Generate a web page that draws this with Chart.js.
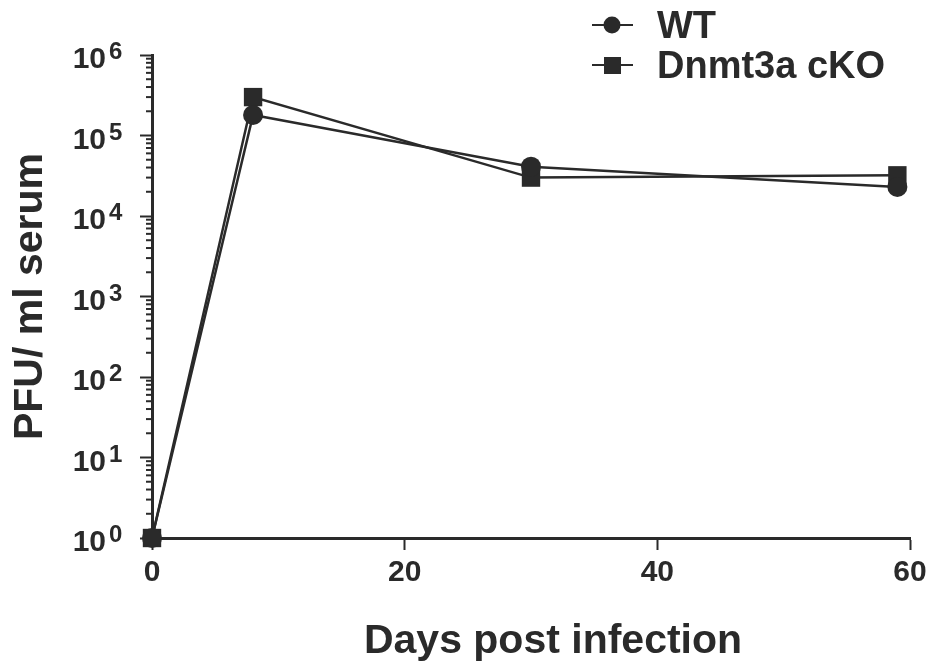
<!DOCTYPE html>
<html>
<head>
<meta charset="utf-8">
<script src="https://cdn.jsdelivr.net/npm/chart.js@4/dist/chart.umd.min.js"></script>
<style>
  html, body { margin: 0; padding: 0; background: #fff; }
  #wrap { width: 932px; height: 666px; }
</style>
</head>
<body>
<div id="wrap"><canvas id="titerChart" width="932" height="666"></canvas></div>
<script>
// values
const days = [0, 8, 30, 59];
const wtTiter = [1, 1.8e5, 4.1e4, 2.3e4];
const ckoTiter = [1, 3.0e5, 3.0e4, 3.2e4];
const seriesNames = ["WT", "Dnmt3a cKO"];
const xTickValues = [0, 20, 40, 60];
const yExponents = [0, 1, 2, 3, 4, 5, 6];
const xTitle = "Days post infection";

const ink = "#2a2a2a";
const FONT = "'Liberation Sans', Arial, sans-serif";
Chart.defaults.font.family = FONT;
Chart.defaults.color = ink;

function toPoints(xs, ys) {
    return xs.map((x, i) => ({ x: x, y: ys[i] }));
}

// y tick labels as 10 + superscript exponent, minor log ticks, x title
const logAxisDecor = {
    id: "logAxisDecor",
    afterDraw(chart) {
        const ctx = chart.ctx;
        const y = chart.scales.y;
        const area = chart.chartArea;
        const left = area.left;
        ctx.save();
        ctx.strokeStyle = ink;
        ctx.lineWidth = 2;
        // minor ticks 2..9 in every decade
        for (let e = 0; e < yExponents[yExponents.length - 1]; e++) {
            for (let k = 2; k <= 9; k++) {
                const py = y.getPixelForValue(k * Math.pow(10, e));
                ctx.beginPath();
                ctx.moveTo(left - 6, py);
                ctx.lineTo(left, py);
                ctx.stroke();
            }
        }
        ctx.fillStyle = ink;
        ctx.textBaseline = "alphabetic";
        yExponents.forEach((e) => {
            const py = y.getPixelForValue(Math.pow(10, e));
            ctx.font = "bold 30px " + FONT;
            ctx.textAlign = "right";
            ctx.fillText("10", left - 46, py + 13);
            ctx.font = "bold 24px " + FONT;
            ctx.textAlign = "left";
            ctx.fillText(String(e), left - 43, py + 4);
        });
        // x axis title, sits a little right of the axis centre in the original
        ctx.font = "bold 41px " + FONT;
        ctx.textAlign = "center";
        ctx.fillText(xTitle, (area.left + area.right) / 2 + 22, area.bottom + 115);
        ctx.restore();
    }
};

// legend: short line with the series marker
const lineLegend = {
    id: "lineLegend",
    afterDraw(chart) {
        const ctx = chart.ctx;
        ctx.save();
        chart.data.datasets.forEach((ds, i) => {
            const cy = 25 + i * 40;
            ctx.strokeStyle = ink;
            ctx.lineWidth = 2;
            ctx.beginPath();
            ctx.moveTo(592, cy);
            ctx.lineTo(633, cy);
            ctx.stroke();
            ctx.fillStyle = ink;
            if (ds.pointStyle === "rect") {
                ctx.fillRect(604, cy - 8, 17, 17);
            } else {
                ctx.beginPath();
                ctx.arc(612, cy, 8.5, 0, Math.PI * 2);
                ctx.fill();
            }
            ctx.font = "bold 38px " + FONT;
            ctx.textAlign = "left";
            ctx.textBaseline = "alphabetic";
            ctx.fillText(ds.label, 657, cy + 13);
        });
        ctx.restore();
    }
};

new Chart(document.getElementById("titerChart"), {
    type: "line",
    data: {
        datasets: [
            {
                label: seriesNames[0],
                data: toPoints(days, wtTiter),
                borderColor: ink,
                backgroundColor: ink,
                borderWidth: 2.5,
                pointStyle: "circle",
                pointRadius: 10,
                pointBorderWidth: 0,
                tension: 0,
                clip: false
            },
            {
                label: seriesNames[1],
                data: toPoints(days, ckoTiter),
                borderColor: ink,
                backgroundColor: ink,
                borderWidth: 2.5,
                pointStyle: "rect",
                pointRadius: 13,
                pointBorderWidth: 0,
                tension: 0,
                clip: false
            }
        ]
    },
    options: {
        responsive: false,
        animation: false,
        layout: { padding: { top: 55, right: 22, left: 0, bottom: 0 } },
        plugins: {
            legend: { display: false },
            tooltip: { enabled: false }
        },
        scales: {
            x: {
                type: "linear",
                min: 0,
                max: 60,
                afterBuildTicks: (scale) => {
                    scale.ticks = xTickValues.map((v) => ({ value: v }));
                },
                afterFit: (scale) => { scale.height = 128; },
                grid: {
                    drawOnChartArea: false,
                    drawTicks: true,
                    tickLength: 12,
                    tickWidth: 2,
                    tickColor: ink
                },
                border: { display: true, color: ink, width: 3 },
                ticks: {
                    font: { size: 30, weight: "bold" },
                    color: ink,
                    padding: 5,
                    maxRotation: 0
                },
                title: { display: false }
            },
            y: {
                type: "logarithmic",
                min: 1,
                max: 1e6,
                afterBuildTicks: (scale) => {
                    scale.ticks = yExponents.map((e) => ({ value: Math.pow(10, e) }));
                },
                afterFit: (scale) => { scale.width = 152; },
                grid: {
                    drawOnChartArea: false,
                    drawTicks: true,
                    tickLength: 12,
                    tickWidth: 2,
                    tickColor: ink
                },
                border: { display: true, color: ink, width: 3 },
                ticks: {
                    color: "rgba(0,0,0,0)",
                    font: { size: 30, weight: "bold" },
                    callback: (v) => "10"
                },
                title: {
                    display: true,
                    text: "PFU/ ml serum",
                    font: { size: 41, weight: "bold" },
                    color: ink,
                    padding: { top: 6, bottom: 0 }
                }
            }
        }
    },
    plugins: [logAxisDecor, lineLegend]
});
</script>
</body>
</html>
